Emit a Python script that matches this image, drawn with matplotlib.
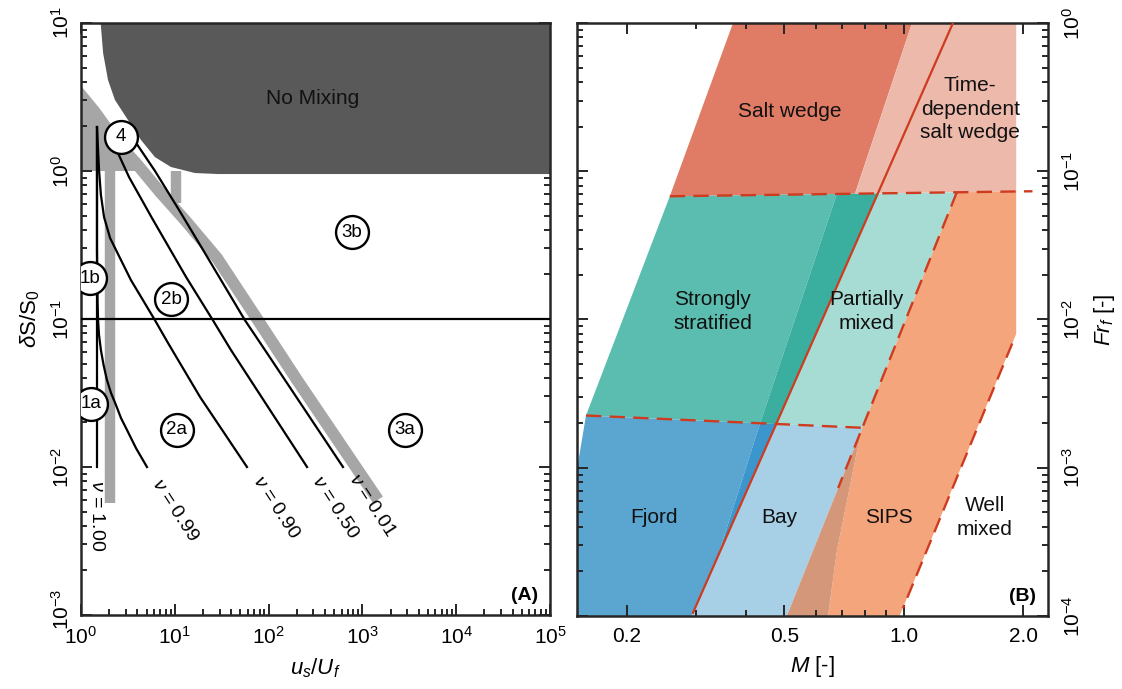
import numpy as np
import matplotlib
matplotlib.use("Agg")
import matplotlib.pyplot as plt
import matplotlib.transforms as mtrans
from matplotlib.ticker import LogLocator, NullFormatter, FixedLocator, FixedFormatter

plt.rcParams["font.family"] = ["Liberation Sans", "DejaVu Sans"]
plt.rcParams["mathtext.fontset"] = "custom"
plt.rcParams["mathtext.rm"] = "Liberation Sans"
plt.rcParams["mathtext.it"] = "Liberation Sans:italic"
plt.rcParams["mathtext.bf"] = "Liberation Sans:bold"

# ---------------- panel A data (x = u_s/U_f, y = dS/S0) ----------------
nu_names = ["1.00", "0.99", "0.90", "0.50", "0.01"]
nu100_x = [1.48, 1.48]
nu100_y = [1.98, 0.01]
nu099_x = [1.48, 1.48, 1.50, 1.52, 1.556, 1.63, 1.74, 1.89, 2.09, 2.36, 2.67, 3.09, 3.86, 5.05]
nu099_y = [1.98, 0.293, 0.134, 0.098, 0.078, 0.0617, 0.0489, 0.0387, 0.0316, 0.0262,
           0.0214, 0.0178, 0.0134, 0.01]
nu090_x = [1.48, 1.556, 1.63, 1.76, 2.04, 2.67, 3.41, 4.58, 6.15, 8.46, 18.6, 58.8]
nu090_y = [1.98, 1.016, 0.689, 0.489, 0.353, 0.25, 0.183, 0.134, 0.098, 0.0689, 0.0297, 0.01]
nu050_x = [2.19, 2.48, 3.25, 5.71, 13.2, 25.5, 39.7, 257]
nu050_y = [1.55, 1.32, 0.91, 0.481, 0.192, 0.098, 0.0617, 0.01]
nu001_x = [3.25, 3.86, 6.15, 11.1, 20.0, 56, 91.5, 621]
nu001_y = [1.81, 1.55, 1.0, 0.545, 0.293, 0.098, 0.0617, 0.01]
nu_curves = [(nu100_x, nu100_y), (nu099_x, nu099_y), (nu090_x, nu090_y),
             (nu050_x, nu050_y), (nu001_x, nu001_y)]
nu_label_x = [1.445, 10.0, 120, 510, 1266]
nu_label_y = [0.0047, 0.0051, 0.0053, 0.0053, 0.0055]

band_x = [0.884, 1.41, 2.30, 3.86, 6.95, 12.8, 28.2, 77.1, 201, 1467]
band_y = [3.58, 2.5, 1.62, 1.13, 0.721, 0.467, 0.258, 0.098, 0.0387, 0.006]
bar_x = [2.06, 10.3]
bar_top = [1.0, 1.0]
bar_bottom = [0.0057, 0.61]

nomix_x = [1.62, 1.72, 1.94, 2.30, 3.17, 4.36, 6.15, 9.11, 16.4, 28.9, 1e5, 1e5]
nomix_y = [10, 6.27, 4.12, 3.02, 2.21, 1.62, 1.24, 1.064, 0.969, 0.954, 0.954, 10]

regime_names = ["4", "1b", "2b", "3b", "1a", "2a", "3a"]
regime_x = [2.67, 1.25, 9.11, 775, 1.28, 10.5, 2845]
regime_y = [1.70, 0.189, 0.136, 0.387, 0.0267, 0.0178, 0.0178]
hline_y = 0.1
a_yticks = [1e-3, 1e-2, 1e-1, 1e0, 1e1]

# ---------------- panel B data (x = M, y = Fr_f) ----------------
salt_M = [0.257, 0.371, 1.049, 0.753]
salt_Fr = [0.0678, 1.0, 1.0, 0.0706]
timedep_M = [0.753, 1.049, 1.92, 1.92]
timedep_Fr = [0.0706, 1.0, 1.0, 0.0731]
strat_M = [0.158, 0.257, 0.678, 0.434]
strat_Fr = [0.00225, 0.0678, 0.0703, 0.00199]
strat_edge_M = [0.434, 0.678, 0.860, 0.477]
strat_edge_Fr = [0.00199, 0.0703, 0.0708, 0.00197]
partial_M = [0.477, 0.860, 1.36, 0.786]
partial_Fr = [0.00197, 0.0708, 0.0721, 0.00186]
fjord_M = [0.15, 0.15, 0.158, 0.434, 0.340, 0.2915]
fjord_Fr = [1e-4, 9.8e-4, 0.00225, 0.00199, 2.55e-4, 1e-4]
fjord_edge_M = [0.340, 0.434, 0.477]
fjord_edge_Fr = [2.55e-4, 0.00199, 0.00197]
bay_M = [0.2915, 0.477, 0.786, 0.507]
bay_Fr = [1e-4, 0.00197, 0.00186, 1e-4]
overlap_M = [0.507, 0.786, 0.762, 0.719, 0.678, 0.644]
overlap_Fr = [1e-4, 0.00186, 0.0013, 5.98e-4, 2.75e-4, 1e-4]
sips_M = [0.644, 0.678, 0.719, 0.762, 0.786, 1.36, 1.92, 1.92, 0.976]
sips_Fr = [1e-4, 2.75e-4, 5.98e-4, 0.0013, 0.00186, 0.0721, 0.0731, 0.0080, 1e-4]

red_M = [0.294, 1.33]
red_Fr = [1.05e-4, 1.0]
upper_dash_M = [0.257, 2.11]
upper_dash_Fr = [0.0678, 0.0733]
lower_dash_M = [0.158, 0.786]
lower_dash_Fr = [0.00225, 0.00186]
sips_left_M = [1.36, 0.683]
sips_left_Fr = [0.0721, 7.3e-4]
sips_right_M = [1.876, 0.995]
sips_right_Fr = [0.00689, 1.13e-4]

region_names = ["Salt wedge", "Time-\ndependent\nsalt wedge", "Strongly\nstratified",
                "Partially\nmixed", "Fjord", "Bay", "SIPS", "Well\nmixed"]
region_M = [0.516, 1.47, 0.330, 0.805, 0.234, 0.484, 0.918, 1.60]
region_Fr = [0.254, 0.262, 0.0113, 0.0113, 4.6e-4, 4.6e-4, 4.6e-4, 4.6e-4]

INK = "#262626"
RED = "#cf3b1f"


def style_axes(ax):
    for s in ax.spines.values():
        s.set_linewidth(1.8)
        s.set_color(INK)
    ax.tick_params(which="both", direction="in", top=True, right=True,
                   width=1.4, color=INK, labelsize=15, pad=6)
    ax.tick_params(axis="x", pad=8)
    ax.tick_params(which="major", length=8)
    ax.tick_params(which="minor", length=4)


fig = plt.figure(figsize=(11.22, 6.89), dpi=100)

# ================= panel A =================
ax = fig.add_axes([0.0722, 0.1074, 0.418, 0.8592])
ax.set_xscale("log")
ax.set_yscale("log")
ax.set_xlim(1, 1e5)
ax.set_ylim(1e-3, 1e1)

# grey corner fill under the band, down to dS/S0 = 1
lx, ly = np.log10(band_x), np.log10(band_y)
x_at_one = 10 ** np.interp(0.0, ly[::-1], lx[::-1])
keep = np.array(band_y) >= 1.0
fx = [band_x[0]] + list(np.array(band_x)[keep]) + [x_at_one]
fy = [1.0] + list(np.array(band_y)[keep]) + [1.0]
ax.fill(fx, fy, color="#a6a6a6", lw=0, zorder=1)
for bx, bt, bb in zip(bar_x, bar_top, bar_bottom):
    ax.plot([bx, bx], [bt, bb], color="#a6a6a6", lw=7.5, solid_capstyle="butt", zorder=1)
ax.plot(band_x, band_y, color="#a6a6a6", lw=8.5, solid_capstyle="butt",
        solid_joinstyle="round", zorder=1)

ax.fill(nomix_x, nomix_y, color="#595959", lw=0, zorder=2)
ax.text(297, 3.07, "No Mixing", fontsize=15, ha="center", va="center", color="#111111", zorder=3)

ax.axhline(hline_y, color="black", lw=1.6, zorder=3)
for (cx, cy) in nu_curves:
    ax.plot(cx, cy, color="black", lw=1.6, zorder=3, solid_joinstyle="round")

for name, tx, ty in zip(nu_names, nu_label_x, nu_label_y):
    rot = -90 if name == "1.00" else -57
    ax.text(tx, ty, r"$\nu$ = " + name, fontsize=14, rotation=rot,
            ha="center", va="center", rotation_mode="anchor", zorder=4)

ax.scatter(regime_x, regime_y, s=560, facecolor="white", edgecolor="black",
           linewidth=1.7, zorder=5)
for name, tx, ty in zip(regime_names, regime_x, regime_y):
    ax.text(tx, ty, name, fontsize=13.5, ha="center", va="center", zorder=6)

ax.text(0.975, 0.018, "(A)", transform=ax.transAxes, fontsize=14,
        fontweight="bold", ha="right", va="bottom")

ax.xaxis.set_major_locator(LogLocator(base=10, numticks=20))
ax.xaxis.set_minor_locator(LogLocator(base=10, subs=np.arange(2, 10), numticks=100))
ax.xaxis.set_minor_formatter(NullFormatter())
ax.yaxis.set_major_locator(FixedLocator(a_yticks))
ax.yaxis.set_minor_locator(LogLocator(base=10, subs=np.arange(2, 10), numticks=100))
ax.yaxis.set_minor_formatter(NullFormatter())
style_axes(ax)
for lab in ax.get_yticklabels():
    lab.set_rotation(90)
    lab.set_va("center")
# nudge the lowest y label up a little so it clears the 10^0 x label
low = ax.yaxis.get_major_ticks()[0].label1
low.set_transform(low.get_transform() +
                  mtrans.ScaledTranslation(0, 4 / 72, fig.dpi_scale_trans))
ax.set_xlabel(r"$u_s/U_f$", fontsize=16, labelpad=6)
ax.set_ylabel(r"$\delta\mathrm{S/S}_0$", fontsize=16, labelpad=6)

# ================= panel B =================
bx_ = fig.add_axes([0.5143, 0.1060, 0.4198, 0.8606])
bx_.set_xscale("log")
bx_.set_yscale("log")
bx_.set_xlim(0.15, 2.31)
bx_.set_ylim(1e-4, 1.0)

polys = [
    (salt_M, salt_Fr, "#e07b65"),
    (timedep_M, timedep_Fr, "#ecb9ab"),
    (strat_M, strat_Fr, "#5bbdb0"),
    (strat_edge_M, strat_edge_Fr, "#3aae9f"),
    (partial_M, partial_Fr, "#a6dcd4"),
    (fjord_M, fjord_Fr, "#5aa6d1"),
    (fjord_edge_M, fjord_edge_Fr, "#3a96cc"),
    (bay_M, bay_Fr, "#a7cfe6"),
    (sips_M, sips_Fr, "#f4a57b"),
    (overlap_M, overlap_Fr, "#d49779"),
]
for pm, pf, c in polys:
    bx_.fill(pm, pf, color=c, lw=0, zorder=1)

bx_.plot(red_M, red_Fr, color=RED, lw=1.6, zorder=3)
for dm, df in [(upper_dash_M, upper_dash_Fr), (lower_dash_M, lower_dash_Fr),
               (sips_left_M, sips_left_Fr), (sips_right_M, sips_right_Fr)]:
    bx_.plot(dm, df, color=RED, lw=1.7, dashes=(6.5, 3.5), zorder=3, clip_on=False)

for name, tx, ty in zip(region_names, region_M, region_Fr):
    bx_.text(tx, ty, name, fontsize=15, ha="center", va="center",
             linespacing=1.3, color="#111111", zorder=4)

bx_.text(0.975, 0.018, "(B)", transform=bx_.transAxes, fontsize=14,
         fontweight="bold", ha="right", va="bottom")

bx_.xaxis.set_major_locator(FixedLocator([0.2, 0.5, 1.0, 2.0]))
bx_.xaxis.set_major_formatter(FixedFormatter(["0.2", "0.5", "1.0", "2.0"]))
bx_.xaxis.set_minor_locator(FixedLocator([0.3, 0.4, 0.6, 0.7, 0.8, 0.9]))
bx_.xaxis.set_minor_formatter(NullFormatter())
bx_.yaxis.set_major_locator(LogLocator(base=10, numticks=20))
bx_.yaxis.set_minor_locator(LogLocator(base=10, subs=np.arange(2, 10), numticks=100))
bx_.yaxis.set_minor_formatter(NullFormatter())
style_axes(bx_)
bx_.tick_params(axis="y", which="both", left=True, right=True,
                labelleft=False, labelright=True, pad=10)
for lab in bx_.get_yticklabels():
    lab.set_rotation(90)
    lab.set_va("center")
bx_.yaxis.set_label_position("right")
bx_.set_xlabel(r"$M$ [-]", fontsize=16, labelpad=6)
bx_.set_ylabel(r"$Fr_f$ [-]", fontsize=16, labelpad=6)

fig.savefig("out.png", dpi=100)
